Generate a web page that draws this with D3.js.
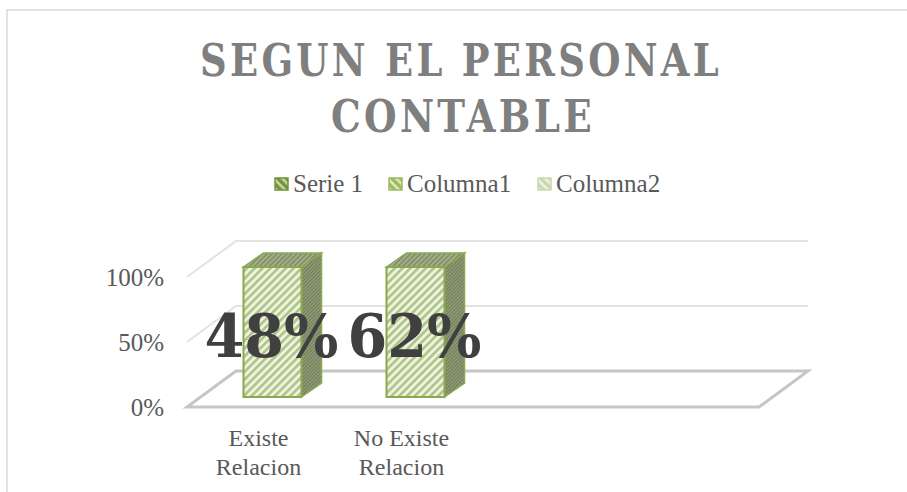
<!DOCTYPE html>
<html>
<head>
<meta charset="utf-8">
<script src="https://cdnjs.cloudflare.com/ajax/libs/d3/7.8.5/d3.min.js"></script>
<style>
  html, body { margin: 0; padding: 0; background: #fff; overflow: hidden; }
  text { font-family: "Liberation Serif", serif; }
  .heavy { font-family: "DejaVu Serif", serif; }
</style>
</head>
<body>
<div id="chart"></div>
<script>
// Data
const categories = ["Existe Relacion", "No Existe Relacion", "", ""];
const barValues = [100, 100];
const barLabels = ["48%", "62%"];
const yTicks = [0, 50, 100];
const legendNames = ["Serie 1", "Columna1", "Columna2"];
const titleLines = ["SEGUN EL PERSONAL", "CONTABLE"];

// Set Dimensions
const width = 907;
const height = 492;
const floorLeft = 187;
const floorRight = 759;
const floorFront = 407;
const plotHeight = 130;
const depthX = 49;
const depthY = -36;

var svg = d3.select("#chart")
  .append("svg")
  .attr("width", width)
  .attr("height", height);

// Hatch patterns
var defs = svg.append("defs");
function hatch(id, bg, fg, size, sw, angle) {
  var p = defs.append("pattern")
    .attr("id", id)
    .attr("patternUnits", "userSpaceOnUse")
    .attr("width", size)
    .attr("height", size)
    .attr("patternTransform", "rotate(" + angle + ")");
  p.append("rect").attr("width", size).attr("height", size).attr("fill", bg);
  p.append("rect").attr("width", sw).attr("height", size).attr("fill", fg);
}
hatch("front", "#edf2e1", "#aec485", 5.5, 2.6, 45);
hatch("top", "#a3ae8b", "#7d8c63", 3.5, 1.5, 45);
hatch("side", "#94a07d", "#6f7d57", 2.5, 1.2, 45);
hatch("leg0", "#c9d6ae", "#76933c", 6, 3.5, -45);
hatch("leg1", "#dfe9cb", "#9bbb59", 6, 3.5, -45);
hatch("leg2", "#eef3e4", "#c9d8ae", 6, 3.5, -45);

// Chart border, open on the right
svg.append("path")
  .attr("d", "M7," + height + "V10H" + width)
  .attr("fill", "none")
  .attr("stroke", "#d9d9d9")
  .attr("stroke-width", 1.5);

// Scales
var xScale = d3.scaleBand()
  .domain(d3.range(categories.length))
  .range([floorLeft, floorRight]);

var yScale = d3.scaleLinear()
  .domain([0, 100])
  .range([floorFront, floorFront - plotHeight]);

// Gridlines, floor drawn heavier
yTicks.forEach(function(t) {
  var y = yScale(t);
  var line = d3.line();
  if (t === 0) {
    svg.append("path")
      .attr("d", line([[floorLeft, y], [floorRight, y], [floorRight + depthX, y + depthY], [floorLeft + depthX, y + depthY]]) + "Z")
      .attr("fill", "none")
      .attr("stroke", "#c6c6c6")
      .attr("stroke-width", 3);
  } else {
    svg.append("path")
      .attr("d", line([[floorLeft, y], [floorLeft + depthX, y + depthY], [floorRight + depthX, y + depthY]]))
      .attr("fill", "none")
      .attr("stroke", "#e2e2e2")
      .attr("stroke-width", 2);
  }
});

// Y tick labels
svg.selectAll(".ytick")
  .data(yTicks)
  .enter()
  .append("text")
    .attr("class", "ytick")
    .attr("x", 164)
    .attr("y", function(d) { return yScale(d) + 9; })
    .attr("text-anchor", "end")
    .attr("font-size", 25)
    .attr("fill", "#595959")
    .text(function(d) { return d + "%"; });

// Bars
const barWidth = 58;
const barOffX = 14;
const barOffY = -10;
const barDX = 20;
const barDY = -14;
var bars = svg.selectAll(".bar")
  .data(barValues)
  .enter()
  .append("g")
    .attr("class", "bar");

function barLeft(i) { return xScale(i) + xScale.bandwidth() / 2 - barWidth / 2 + barOffX; }

bars.append("path")
  .attr("d", function(d, i) {
    var x = barLeft(i) + barWidth, y0 = yScale(0) + barOffY, y1 = yScale(d) + barOffY;
    return d3.line()([[x, y0], [x + barDX, y0 + barDY], [x + barDX, y1 + barDY], [x, y1]]) + "Z";
  })
  .attr("fill", "url(#side)")
  .attr("stroke", "#8aa850")
  .attr("stroke-width", 1.5);

bars.append("path")
  .attr("d", function(d, i) {
    var x = barLeft(i), y1 = yScale(d) + barOffY;
    return d3.line()([[x, y1], [x + barDX, y1 + barDY], [x + barWidth + barDX, y1 + barDY], [x + barWidth, y1]]) + "Z";
  })
  .attr("fill", "url(#top)")
  .attr("stroke", "#8aa850")
  .attr("stroke-width", 1.5);

bars.append("rect")
  .attr("x", function(d, i) { return barLeft(i); })
  .attr("y", function(d) { return yScale(d) + barOffY; })
  .attr("width", barWidth)
  .attr("height", function(d) { return yScale(0) - yScale(d); })
  .attr("fill", "url(#front)")
  .attr("stroke", "#8aa850")
  .attr("stroke-width", 2);

// Data labels
svg.selectAll(".dlabel")
  .data(barLabels)
  .enter()
  .append("text")
    .attr("class", "dlabel heavy")
    .attr("x", function(d, i) { return barLeft(i) + barWidth / 2 - 1; })
    .attr("y", 357)
    .attr("text-anchor", "middle")
    .attr("font-size", 60)
    .attr("font-weight", "bold")
    .attr("fill", "#404040")
    .attr("textLength", 134)
    .attr("lengthAdjust", "spacingAndGlyphs")
    .text(function(d) { return d; });

// Category labels
categories.forEach(function(c, i) {
  if (!c) return;
  var parts = i === 0 ? ["Existe", "Relacion"] : ["No Existe", "Relacion"];
  parts.forEach(function(p, j) {
    svg.append("text")
      .attr("x", xScale(i) + xScale.bandwidth() / 2)
      .attr("y", 446 + j * 29)
      .attr("text-anchor", "middle")
      .attr("font-size", 24)
      .attr("fill", "#595959")
      .text(p);
  });
});

// Title, squeezed to the width of the original face
const titleWidths = [522, 264];
svg.selectAll(".title")
  .data(titleLines)
  .enter()
  .append("text")
    .attr("class", "title heavy")
    .attr("x", function(d, i) { return i === 0 ? 461 : 463; })
    .attr("y", function(d, i) { return 76 + i * 56; })
    .attr("text-anchor", "middle")
    .attr("font-size", 45)
    .attr("font-weight", "bold")
    .attr("letter-spacing", 4)
    .attr("fill", "#7f7f7f")
    .attr("textLength", function(d, i) { return titleWidths[i]; })
    .attr("lengthAdjust", "spacingAndGlyphs")
    .text(function(d) { return d; });

// Legend
const legendX = [275, 389, 538];
var legend = svg.selectAll(".legend")
  .data(legendNames)
  .enter()
  .append("g")
    .attr("class", "legend")
    .attr("transform", function(d, i) { return "translate(" + legendX[i] + ",178)"; });

legend.append("rect")
  .attr("width", 13)
  .attr("height", 12)
  .attr("fill", function(d, i) { return "url(#leg" + i + ")"; })
  .attr("stroke", function(d, i) { return ["#76933c", "#9bbb59", "#c9d8ae"][i]; })
  .attr("stroke-width", 1.5);

legend.append("text")
  .attr("x", 18)
  .attr("y", 14)
  .attr("font-size", 25)
  .attr("fill", "#595959")
  .text(function(d) { return d; });
</script>
</body>
</html>
